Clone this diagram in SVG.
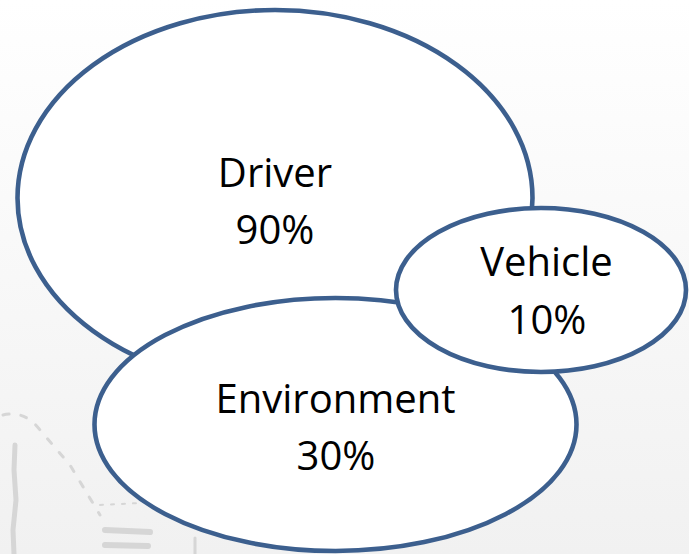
<svg xmlns="http://www.w3.org/2000/svg" width="689" height="554" viewBox="0 0 689 554">
<defs>
<linearGradient id="bg" x1="0" y1="0" x2="0" y2="1">
<stop offset="0" stop-color="#ffffff"/>
<stop offset="1" stop-color="#f1f1f1"/>
</linearGradient>
<style>
.node{fill:#ffffff;stroke:#3c5f8e;stroke-width:4.6}
.lbl{font-family:"Open Sans","Noto Sans","Liberation Sans",sans-serif;font-size:40px;fill:#000000;text-anchor:middle}
.sk{fill:none;stroke:#d6d6d6;stroke-linecap:round}
</style>
</defs>
<rect width="689" height="554" fill="url(#bg)"/>
<g id="sketch">
<path class="sk" stroke-width="5" d="M15 445 L14 470 L16 500 L13 530 L14 554"/>
<path class="sk" stroke-width="3" stroke-dasharray="6 12" d="M3 415 Q25 410 40 430 L70 465 L100 515"/>
<path class="sk" stroke-width="2" stroke-dasharray="3 8" d="M100 505 L140 503"/>
<path class="sk" stroke-width="6" d="M105 530 L150 532 M105 545 L148 546"/>
<path class="sk" stroke-width="3" d="M195 538 L195 554"/>
</g>
<g id="driver">
<ellipse class="node" cx="275" cy="198" rx="257.5" ry="188"/>
<text class="lbl" x="275" y="187">Driver</text>
<text class="lbl" x="275" y="244">90%</text>
</g>
<g id="environment">
<ellipse class="node" cx="335.5" cy="424.5" rx="241" ry="126.5"/>
<text class="lbl" x="335.5" y="413">Environment</text>
<text class="lbl" x="336" y="470">30%</text>
</g>
<g id="vehicle">
<ellipse class="node" cx="541" cy="290" rx="145" ry="82"/>
<text class="lbl" x="546.5" y="276">Vehicle</text>
<text class="lbl" x="547" y="334">10%</text>
</g>
<g id="connectors"/>
</svg>
